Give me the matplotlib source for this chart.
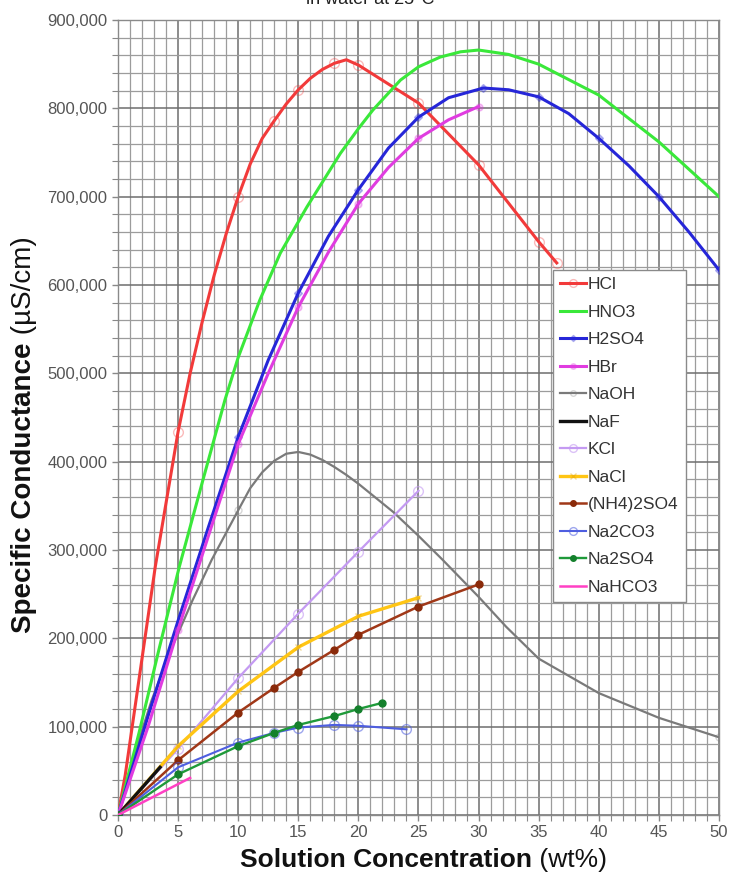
import matplotlib
matplotlib.use("Agg")
import matplotlib.pyplot as plt
from matplotlib.ticker import MultipleLocator, FuncFormatter
from matplotlib.colors import to_rgba

plt.rcParams['font.family'] = ['Liberation Sans', 'DejaVu Sans']

# ---- data (wt%, uS/cm) ----
hcl_x = [0, 0.6, 1.7, 3.1, 5, 6, 7, 8, 9, 10, 11, 12, 13, 14, 15, 16, 17, 18, 19, 20,
         25, 30, 35, 36.5]
hcl_y = [0, 45000, 149000, 281000, 434000, 500000, 558000, 611000, 658000, 700000,
         737000, 766000, 786000, 805000, 821000, 834000, 844000, 851000, 855000,
         849000, 806000, 736000, 649000, 625000]
hcl_marks = [0, 4, 9, 12, 14, 17, 19, 20, 21, 22, 23]

hno3_x = [0, 1.75, 3.4, 5.1, 7, 8.9, 10, 11.8, 13.5, 15.7, 18.5, 20, 21.2, 23.5, 25,
          26.8, 28.5, 30, 32.5, 35, 40, 45, 50]
hno3_y = [0, 93000, 187000, 281000, 376000, 470000, 518000, 583000, 636000, 688000,
          749000, 777000, 798000, 832000, 847000, 858000, 864000, 866000, 861000,
          850000, 815000, 762000, 700000]

h2so4_x = [0, 2.5, 5, 7.5, 10, 12.5, 15, 17.5, 20, 22.5, 25, 27.5, 30.4, 32.5, 35,
           37.5, 40, 42.5, 45, 47.5, 50]
h2so4_y = [0, 112000, 220000, 325000, 428000, 515000, 591000, 655000, 708000, 755000,
           790000, 812000, 823000, 821000, 813000, 794000, 766000, 735000, 700000,
           660000, 617000]

hbr_x = [0, 2.5, 5, 7.5, 10, 12.5, 15, 17.5, 20, 22.5, 25, 27.5, 30]
hbr_y = [0, 100000, 210000, 315000, 420000, 500000, 575000, 637000, 692000, 733000,
         766000, 787000, 802000]

naoh_x = [0, 1.2, 2.8, 4.5, 6.2, 7.8, 10, 11, 12, 13, 14, 15, 16, 17, 18, 19, 20,
          22.9, 25, 27, 30, 32.3, 35, 40, 45, 50]
naoh_y = [0, 62000, 130000, 190000, 243000, 289000, 345000, 370000, 388000, 401000,
          409000, 411000, 408000, 402000, 394000, 385000, 375000, 343000, 316000,
          289000, 247000, 213000, 177000, 138000, 110000, 88000]

naf_x = [0, 3.5]
naf_y = [0, 54000]

kcl_x = [0, 5, 10, 15, 20, 25]
kcl_y = [0, 75000, 155000, 228000, 298000, 367000]

nacl_x = [0, 5, 10, 15, 20, 25]
nacl_y = [0, 78000, 140000, 190000, 225000, 246000]

nh4so4_x = [0, 5, 10, 13, 15, 18, 20, 25, 30]
nh4so4_y = [0, 62000, 116000, 144000, 162000, 187000, 204000, 236000, 261000]

na2co3_x = [0, 5, 10, 13, 15, 18, 20, 24]
na2co3_y = [0, 54000, 82000, 93000, 99000, 102000, 101000, 97000]

na2so4_x = [0, 5, 10, 13, 15, 18, 20, 22]
na2so4_y = [0, 46000, 78000, 93000, 102000, 112000, 120000, 127000]

nahco3_x = [0, 6]
nahco3_y = [0, 42000]

title_text = "in water at 25°C"

# ---- figure ----
fig = plt.figure(figsize=(7.37, 8.75), dpi=100)
ax = fig.add_axes([118/737, 1-815/875, (719-118)/737, (815-20)/875])

ax.set_xlim(0, 50)
ax.set_ylim(0, 900000)
ax.xaxis.set_major_locator(MultipleLocator(5))
ax.xaxis.set_minor_locator(MultipleLocator(1))
ax.yaxis.set_major_locator(MultipleLocator(100000))
ax.yaxis.set_minor_locator(MultipleLocator(20000))
ax.yaxis.set_major_formatter(FuncFormatter(lambda v, p: f"{int(v):,}"))
ax.grid(which='major', color='#6e6e6e', lw=1.1, zorder=0)
ax.grid(which='minor', color='#9c9c9c', lw=0.9, zorder=0)
ax.set_axisbelow(True)
ax.tick_params(which='both', direction='out', color='#888888', labelcolor='#555555',
               labelsize=12)
ax.tick_params(which='major', length=4, width=1)
ax.tick_params(which='minor', length=4, width=0.8)
for s in ax.spines.values():
    s.set_color('#8a8a8a')
    s.set_linewidth(1.0)


def faint(c, a=0.35):
    r, g, b, _ = to_rgba(c)
    return (r, g, b, a)


ax.plot(hcl_x, hcl_y, color='#f23a3a', lw=2.2, marker='o', ms=7, mfc='none',
        mec=faint('#f23a3a', 0.35), markevery=hcl_marks, label='HCl', zorder=5)
ax.plot(hno3_x, hno3_y, color='#3ae83a', lw=2.2, label='HNO3', zorder=5)
ax.plot(h2so4_x, h2so4_y, color='#2626d8', lw=2.2, marker='D', ms=4,
        mfc=faint('#2626d8', 0.3), mec=faint('#2626d8', 0.3),
        markevery=[0, 4, 6, 8, 10, 12, 14, 16, 18, 20], label='H2SO4', zorder=5)
ax.plot(hbr_x, hbr_y, color='#e03ce0', lw=2.2, marker='o', ms=5,
        mfc=faint('#e03ce0', 0.3), mec=faint('#e03ce0', 0.3),
        markevery=[2, 4, 6, 8, 10, 12], label='HBr', zorder=5)
ax.plot(naoh_x, naoh_y, color='#7a7a7a', lw=1.6, marker='o', ms=5, mfc='none',
        mec=faint('#7a7a7a', 0.3), markevery=[6, 25], label='NaOH', zorder=4)
ax.plot(naf_x, naf_y, color='#111111', lw=2.4, label='NaF', zorder=5)
ax.plot(kcl_x, kcl_y, color='#c49af2', lw=1.6, marker='o', ms=7, mfc='none',
        mec=faint('#c49af2', 0.6), label='KCl', zorder=4)
ax.plot(nacl_x, nacl_y, color='#ffc514', lw=2.4, marker='x', ms=5,
        mec=faint('#e0a000', 0.4), label='NaCl', zorder=4)
ax.plot(nh4so4_x, nh4so4_y, color='#a03818', lw=1.8, marker='o', ms=5,
        mfc='#8a2a0a', mec='#8a2a0a', label='(NH4)2SO4', zorder=5)
ax.plot(na2co3_x, na2co3_y, color='#4e5ee0', lw=1.5, marker='o', ms=7, mfc='none',
        mec=faint('#4e5ee0', 0.55), label='Na2CO3', zorder=5)
ax.plot(na2so4_x, na2so4_y, color='#1f9a3a', lw=1.7, marker='o', ms=5,
        mfc='#14802c', mec='#14802c', label='Na2SO4', zorder=5)
ax.plot(nahco3_x, nahco3_y, color='#ff40c4', lw=1.8, label='NaHCO3', zorder=5)

leg = ax.legend(loc='upper left', bbox_to_anchor=(553/737, 1-270/875),
                bbox_transform=fig.transFigure, borderaxespad=0, frameon=True,
                fancybox=False, edgecolor='#8a8a8a', framealpha=1,
                fontsize=12.5, handlelength=1.5, handletextpad=0.1,
                labelspacing=0.71, borderpad=0.42, markerscale=0.8)
leg.get_frame().set_linewidth(1.0)
for t in leg.get_texts():
    t.set_color('#333333')

# axis labels: bold part + regular part
xl = fig.text(240/737, 1-867/875, "Solution Concentration", fontsize=19,
              fontweight='bold', color='#111111', ha='left', va='baseline')
ax.annotate(" (wt%)", xy=(1, 0), xycoords=xl, fontsize=19, color='#111111',
            ha='left', va='bottom')

yl = fig.text(37/737, 1-633/875, "Specific Conductance", fontsize=20,
              fontweight='bold', rotation=90, color='#111111', ha='right',
              va='bottom')
ax.annotate(" (µS/cm)", xy=(0, 1), xycoords=yl, fontsize=20, rotation=90,
            color='#111111', ha='left', va='bottom')

fig.text(370/737, 1-4/875, title_text, fontsize=13, ha='center', va='baseline',
         color='#222222')

fig.savefig("out.png", dpi=100)
